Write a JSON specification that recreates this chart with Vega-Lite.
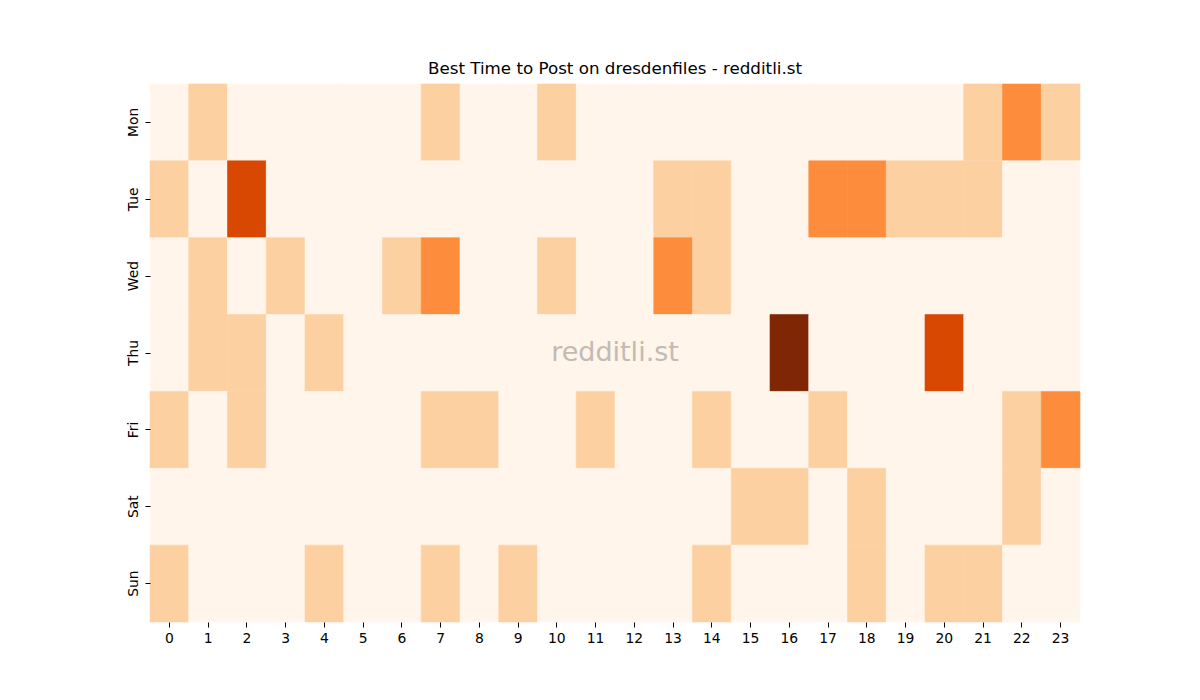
{
  "$schema": "https://vega.github.io/schema/vega-lite/v6.json",
  "width": 930,
  "height": 538,
  "autosize": {"type": "none"},
  "padding": {"left": 150, "top": 84, "right": 120, "bottom": 78},
  "background": "white",
  "config": {"view": {"stroke": null}, "font": "DejaVu Sans"},
  "title": {"text": "Best Time to Post on dresdenfiles - redditli.st", "font": "DejaVu Sans", "fontSize": 16.7, "fontWeight": "normal", "color": "#000000", "offset": 6},
  "data": {"values": [
    {"d":"Mon","h":0,"v":0},{"d":"Mon","h":1,"v":1},{"d":"Mon","h":2,"v":0},{"d":"Mon","h":3,"v":0},{"d":"Mon","h":4,"v":0},{"d":"Mon","h":5,"v":0},{"d":"Mon","h":6,"v":0},{"d":"Mon","h":7,"v":1},{"d":"Mon","h":8,"v":0},{"d":"Mon","h":9,"v":0},{"d":"Mon","h":10,"v":1},{"d":"Mon","h":11,"v":0},{"d":"Mon","h":12,"v":0},{"d":"Mon","h":13,"v":0},{"d":"Mon","h":14,"v":0},{"d":"Mon","h":15,"v":0},{"d":"Mon","h":16,"v":0},{"d":"Mon","h":17,"v":0},{"d":"Mon","h":18,"v":0},{"d":"Mon","h":19,"v":0},{"d":"Mon","h":20,"v":0},{"d":"Mon","h":21,"v":1},{"d":"Mon","h":22,"v":2},{"d":"Mon","h":23,"v":1},
    {"d":"Tue","h":0,"v":1},{"d":"Tue","h":1,"v":0},{"d":"Tue","h":2,"v":3},{"d":"Tue","h":3,"v":0},{"d":"Tue","h":4,"v":0},{"d":"Tue","h":5,"v":0},{"d":"Tue","h":6,"v":0},{"d":"Tue","h":7,"v":0},{"d":"Tue","h":8,"v":0},{"d":"Tue","h":9,"v":0},{"d":"Tue","h":10,"v":0},{"d":"Tue","h":11,"v":0},{"d":"Tue","h":12,"v":0},{"d":"Tue","h":13,"v":1},{"d":"Tue","h":14,"v":1},{"d":"Tue","h":15,"v":0},{"d":"Tue","h":16,"v":0},{"d":"Tue","h":17,"v":2},{"d":"Tue","h":18,"v":2},{"d":"Tue","h":19,"v":1},{"d":"Tue","h":20,"v":1},{"d":"Tue","h":21,"v":1},{"d":"Tue","h":22,"v":0},{"d":"Tue","h":23,"v":0},
    {"d":"Wed","h":0,"v":0},{"d":"Wed","h":1,"v":1},{"d":"Wed","h":2,"v":0},{"d":"Wed","h":3,"v":1},{"d":"Wed","h":4,"v":0},{"d":"Wed","h":5,"v":0},{"d":"Wed","h":6,"v":1},{"d":"Wed","h":7,"v":2},{"d":"Wed","h":8,"v":0},{"d":"Wed","h":9,"v":0},{"d":"Wed","h":10,"v":1},{"d":"Wed","h":11,"v":0},{"d":"Wed","h":12,"v":0},{"d":"Wed","h":13,"v":2},{"d":"Wed","h":14,"v":1},{"d":"Wed","h":15,"v":0},{"d":"Wed","h":16,"v":0},{"d":"Wed","h":17,"v":0},{"d":"Wed","h":18,"v":0},{"d":"Wed","h":19,"v":0},{"d":"Wed","h":20,"v":0},{"d":"Wed","h":21,"v":0},{"d":"Wed","h":22,"v":0},{"d":"Wed","h":23,"v":0},
    {"d":"Thu","h":0,"v":0},{"d":"Thu","h":1,"v":1},{"d":"Thu","h":2,"v":1},{"d":"Thu","h":3,"v":0},{"d":"Thu","h":4,"v":1},{"d":"Thu","h":5,"v":0},{"d":"Thu","h":6,"v":0},{"d":"Thu","h":7,"v":0},{"d":"Thu","h":8,"v":0},{"d":"Thu","h":9,"v":0},{"d":"Thu","h":10,"v":0},{"d":"Thu","h":11,"v":0},{"d":"Thu","h":12,"v":0},{"d":"Thu","h":13,"v":0},{"d":"Thu","h":14,"v":0},{"d":"Thu","h":15,"v":0},{"d":"Thu","h":16,"v":4},{"d":"Thu","h":17,"v":0},{"d":"Thu","h":18,"v":0},{"d":"Thu","h":19,"v":0},{"d":"Thu","h":20,"v":3},{"d":"Thu","h":21,"v":0},{"d":"Thu","h":22,"v":0},{"d":"Thu","h":23,"v":0},
    {"d":"Fri","h":0,"v":1},{"d":"Fri","h":1,"v":0},{"d":"Fri","h":2,"v":1},{"d":"Fri","h":3,"v":0},{"d":"Fri","h":4,"v":0},{"d":"Fri","h":5,"v":0},{"d":"Fri","h":6,"v":0},{"d":"Fri","h":7,"v":1},{"d":"Fri","h":8,"v":1},{"d":"Fri","h":9,"v":0},{"d":"Fri","h":10,"v":0},{"d":"Fri","h":11,"v":1},{"d":"Fri","h":12,"v":0},{"d":"Fri","h":13,"v":0},{"d":"Fri","h":14,"v":1},{"d":"Fri","h":15,"v":0},{"d":"Fri","h":16,"v":0},{"d":"Fri","h":17,"v":1},{"d":"Fri","h":18,"v":0},{"d":"Fri","h":19,"v":0},{"d":"Fri","h":20,"v":0},{"d":"Fri","h":21,"v":0},{"d":"Fri","h":22,"v":1},{"d":"Fri","h":23,"v":2},
    {"d":"Sat","h":0,"v":0},{"d":"Sat","h":1,"v":0},{"d":"Sat","h":2,"v":0},{"d":"Sat","h":3,"v":0},{"d":"Sat","h":4,"v":0},{"d":"Sat","h":5,"v":0},{"d":"Sat","h":6,"v":0},{"d":"Sat","h":7,"v":0},{"d":"Sat","h":8,"v":0},{"d":"Sat","h":9,"v":0},{"d":"Sat","h":10,"v":0},{"d":"Sat","h":11,"v":0},{"d":"Sat","h":12,"v":0},{"d":"Sat","h":13,"v":0},{"d":"Sat","h":14,"v":0},{"d":"Sat","h":15,"v":1},{"d":"Sat","h":16,"v":1},{"d":"Sat","h":17,"v":0},{"d":"Sat","h":18,"v":1},{"d":"Sat","h":19,"v":0},{"d":"Sat","h":20,"v":0},{"d":"Sat","h":21,"v":0},{"d":"Sat","h":22,"v":1},{"d":"Sat","h":23,"v":0},
    {"d":"Sun","h":0,"v":1},{"d":"Sun","h":1,"v":0},{"d":"Sun","h":2,"v":0},{"d":"Sun","h":3,"v":0},{"d":"Sun","h":4,"v":1},{"d":"Sun","h":5,"v":0},{"d":"Sun","h":6,"v":0},{"d":"Sun","h":7,"v":1},{"d":"Sun","h":8,"v":0},{"d":"Sun","h":9,"v":1},{"d":"Sun","h":10,"v":0},{"d":"Sun","h":11,"v":0},{"d":"Sun","h":12,"v":0},{"d":"Sun","h":13,"v":0},{"d":"Sun","h":14,"v":1},{"d":"Sun","h":15,"v":0},{"d":"Sun","h":16,"v":0},{"d":"Sun","h":17,"v":0},{"d":"Sun","h":18,"v":1},{"d":"Sun","h":19,"v":0},{"d":"Sun","h":20,"v":1},{"d":"Sun","h":21,"v":1},{"d":"Sun","h":22,"v":0},{"d":"Sun","h":23,"v":0}
  ]},
  "layer": [
    {
      "mark": {"type": "rect", "strokeWidth": 0.6},
      "encoding": {
        "x": {"field": "h", "type": "ordinal", "scale": {"paddingInner": 0, "paddingOuter": 0},
              "axis": {"title": null, "labelAngle": 0, "labelFontSize": 13.9, "labelColor": "#000000", "labelFont": "DejaVu Sans", "domain": false, "tickColor": "#000000", "tickSize": 5, "labelPadding": 4}},
        "y": {"field": "d", "type": "nominal", "sort": ["Mon","Tue","Wed","Thu","Fri","Sat","Sun"], "scale": {"paddingInner": 0, "paddingOuter": 0},
              "axis": {"title": null, "labelAngle": -90, "labelAlign": "center", "labelBaseline": "bottom", "labelFontSize": 13.9, "labelColor": "#000000", "labelFont": "DejaVu Sans", "domain": false, "tickColor": "#000000", "tickSize": 5, "labelPadding": 5}},
        "color": {"field": "v", "type": "quantitative", "legend": null,
                  "scale": {"type": "linear", "domain": [0, 1, 2, 3, 4], "range": ["#fff5eb", "#fdd0a2", "#fd8d3c", "#d94801", "#7f2704"]}},
        "stroke": {"field": "v", "type": "quantitative", "legend": null,
                  "scale": {"type": "linear", "domain": [0, 1, 2, 3, 4], "range": ["#fff5eb", "#fdd0a2", "#fd8d3c", "#d94801", "#7f2704"]}}
      }
    },
    {
      "data": {"values": [{"label": "redditli.st"}]},
      "mark": {"type": "text", "font": "DejaVu Sans", "fontSize": 27, "fill": "#c4bab3", "align": "center", "baseline": "middle"},
      "encoding": {"text": {"field": "label", "type": "nominal"}}
    }
  ]
}
